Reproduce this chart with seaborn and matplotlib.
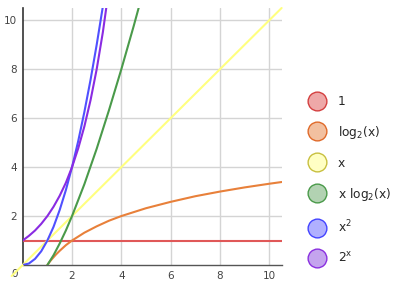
import matplotlib
matplotlib.use("Agg")
import matplotlib.pyplot as plt
import seaborn as sns
from matplotlib.lines import Line2D

# ---- data ----
const_x = [0, 10.5]
const_y = [1, 1]

log_x = [1, 1.1, 1.2, 1.35, 1.5, 1.75, 2, 2.5, 3, 3.5, 4, 5, 6, 7, 8, 9, 10, 10.5]
log_y = [0, 0.14, 0.26, 0.43, 0.58, 0.81, 1, 1.32, 1.58, 1.81, 2, 2.32, 2.58, 2.81, 3, 3.17, 3.32, 3.39]

lin_x = [-0.45, 10.5]
lin_y = [-0.45, 10.5]

nlog_x = [1, 1.25, 1.5, 1.75, 2, 2.5, 3, 3.5, 4, 4.5, 4.75]
nlog_y = [0, 0.40, 0.88, 1.41, 2, 3.30, 4.75, 6.33, 8, 9.76, 10.68]

sq_x = [0, 0.25, 0.5, 0.75, 1, 1.25, 1.5, 1.75, 2, 2.25, 2.5, 2.75, 3, 3.25, 3.5]
sq_y = [0, 0.06, 0.25, 0.56, 1, 1.56, 2.25, 3.06, 4, 5.06, 6.25, 7.56, 9, 10.56, 12.25]

exp_x = [0, 0.25, 0.5, 0.75, 1, 1.25, 1.5, 1.75, 2, 2.25, 2.5, 2.75, 3, 3.25, 3.5]
exp_y = [1, 1.19, 1.41, 1.68, 2, 2.38, 2.83, 3.36, 4, 4.76, 5.66, 6.73, 8, 9.51, 11.31]

labels = ["1", "log$_2$(x)", "x", "x log$_2$(x)", "x$^2$", "2$^{\\mathrm{x}}$"]
ticks = [2, 4, 6, 8, 10]

line_colors = ["#e05858", "#e8803a", "#ffff80", "#4a9a4a", "#5050ff", "#8a2be2"]
fill_colors = ["#eea8a8", "#f2c0a0", "#ffffc4", "#b2d2b2", "#b0b0ff", "#c4a4ee"]
edge_colors = ["#d44040", "#e06a2a", "#c8c040", "#4a9a4a", "#4444ff", "#8a30e0"]

sns.set_style("white")
fig = plt.figure(figsize=(3.95, 2.95), dpi=100)
ax = fig.add_axes([0.0575, 0.1017, 0.6555, 0.8712])

series = [(const_x, const_y), (log_x, log_y), (lin_x, lin_y),
          (nlog_x, nlog_y), (sq_x, sq_y), (exp_x, exp_y)]
for i, (xs, ys) in enumerate(series):
    kw = {}
    if i == 2:
        kw["clip_on"] = False
    sns.lineplot(x=xs, y=ys, color=line_colors[i], linewidth=1.5, ax=ax,
                 sort=False, zorder=3 + i, **kw)

ax.set_xlim(0, 10.5)
ax.set_ylim(0, 10.5)
ax.set_xticks(ticks)
ax.set_yticks(ticks)
ax.set_xticklabels([str(t) for t in ticks])
ax.set_yticklabels([str(t) for t in ticks])
ax.grid(True, color="#d4d4d4", linewidth=1.0)
ax.set_axisbelow(True)
ax.tick_params(length=0, labelsize=7.5, colors="#444444", pad=4)
for s in ["top", "right"]:
    ax.spines[s].set_visible(False)
ax.spines["left"].set_color("#333333")
ax.spines["left"].set_linewidth(1.2)
ax.spines["bottom"].set_color("#555555")
ax.spines["bottom"].set_linewidth(1.0)
ax.text(-0.2, -0.15, "0", ha="right", va="top", fontsize=7.5, color="#444444")

handles = [Line2D([], [], linestyle="none", marker="o", markersize=13.5,
                  markerfacecolor=fill_colors[i], markeredgecolor=edge_colors[i],
                  markeredgewidth=1.0) for i in range(6)]
fig.legend(handles, labels, loc="upper left", bbox_to_anchor=(0.772, 0.695),
           frameon=False, fontsize=8.8, labelspacing=1.3, handletextpad=1.1,
           borderaxespad=0, handlelength=1.2)

fig.savefig("out.png", dpi=100)
